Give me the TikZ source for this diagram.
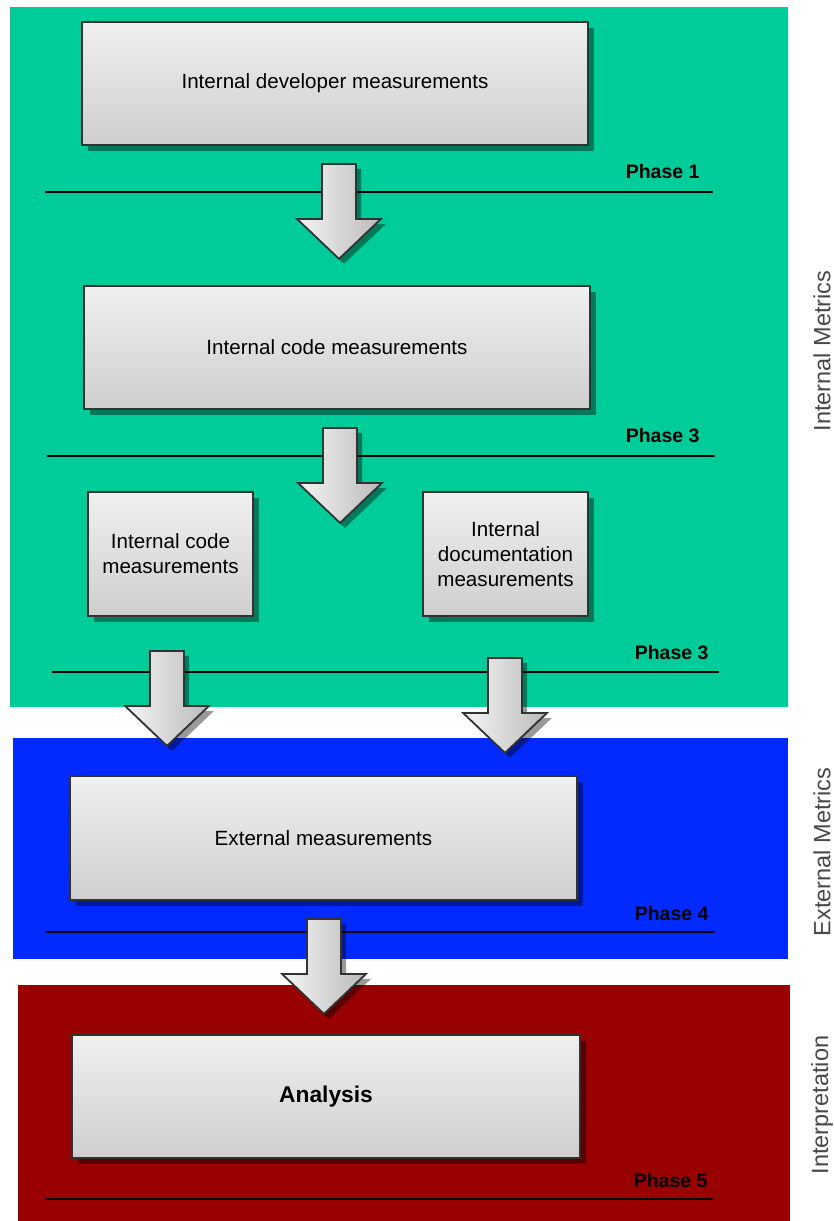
\documentclass[tikz,border=0pt]{standalone}
\usepackage{fontspec}
\setmainfont{Liberation Sans}
\usetikzlibrary{calc, shadows}
\definecolor{intgreen}{RGB}{0,204,153}
\definecolor{extblue}{RGB}{0,42,255}
\definecolor{interred}{RGB}{153,0,0}
\definecolor{boxedge}{RGB}{50,50,50}

\tikzset{
  mbox/.style={draw=boxedge, line width=1.8pt, top color=black!6, bottom color=black!19,
    align=center, inner sep=0pt,
    drop shadow={shadow xshift=6pt, shadow yshift=-6pt, opacity=0.4, fill=black},
    font=\fontsize{20.6}{25}\selectfont},
  phaseline/.style={line width=2pt},
  phaselbl/.style={anchor=base east, font=\bfseries\fontsize{19.5}{23}\selectfont},
  sidelbl/.style={rotate=90, text=black!72, font=\fontsize{23.5}{27}\selectfont},
  pics/downarr/.style={code={
    \fill[black, opacity=0.4] (-12,5) -- (22,5) -- (22,60) -- (47,60) -- (5,100) -- (-37,60) -- (-12,60) -- cycle;
    \draw[boxedge, line width=1.8pt, left color=black!4, right color=black!27]
      (-17,0) -- (17,0) -- (17,55) -- (42,55) -- (0,95) -- (-42,55) -- (-17,55) -- cycle;
  }}
}

\begin{document}
\begin{tikzpicture}[x=1pt, y=-1pt]

\useasboundingbox (0,0) rectangle (834,1221);

%% ── bands ────────────────────────────────────────────────────────
\fill[intgreen] (10,7) rectangle (788,707);
\fill[extblue] (13,738) rectangle (788,959);
\fill[interred] (18,985) rectangle (790,1221);

%% ── side labels ──────────────────────────────────────────────────
\node[sidelbl] (intlbl) at (822,351) {Internal Metrics};
\node[sidelbl] (extlbl) at (822,852) {External Metrics};
\node[sidelbl] (anllbl) at (822,1105) {Interpretation};

%% ── phase lines ──────────────────────────────────────────────────
\draw[phaseline] (45,192) -- (713,192);
\draw[phaseline] (47,456) -- (715,456);
\draw[phaseline] (52,672) -- (719,672);
\draw[phaseline] (46,932) -- (715,932);
\draw[phaseline] (45,1199) -- (713,1199);
\node[phaselbl] (ph1) at (703,178) {Phase 1};
\node[phaselbl] (ph2) at (703,442) {Phase 3};
\node[phaselbl] (ph3) at (712,659) {Phase 3};
\node[phaselbl] (ph4) at (712,920) {Phase 4};
\node[phaselbl] (ph5) at (711,1187) {Phase 5};

%% ── boxes ────────────────────────────────────────────────────────
\node[mbox, minimum width=506pt, minimum height=123pt] (devbox) at (335,83.5) {Internal developer measurements};
\node[mbox, minimum width=506pt, minimum height=123pt] (codebox) at (337,347.5) {Internal code measurements};
\node[mbox, minimum width=165pt, minimum height=124pt] (codeleft) at (170.5,554) {Internal code\\measurements};
\node[mbox, minimum width=165pt, minimum height=124pt] (docbox) at (505.5,554) {Internal\\documentation\\measurements};
\node[mbox, minimum width=507pt, minimum height=124pt] (extbox) at (323.5,838) {External measurements};
\node[mbox, minimum width=508pt, minimum height=123pt, font=\bfseries\fontsize{22.8}{27}\selectfont] (anabox) at (326,1096.5) {Analysis};

%% ── block arrows ─────────────────────────────────────────────────
\pic at ($(devbox.south)+(4,18)$) {downarr};
\pic at ($(codebox.south)+(3,18)$) {downarr};
\pic at ($(codeleft.south)+(-3.5,34)$) {downarr};
\pic at ($(docbox.south)+(-0.5,41)$) {downarr};
\pic at ($(extbox.south)+(0.5,18)$) {downarr};

\end{tikzpicture}
\end{document}
